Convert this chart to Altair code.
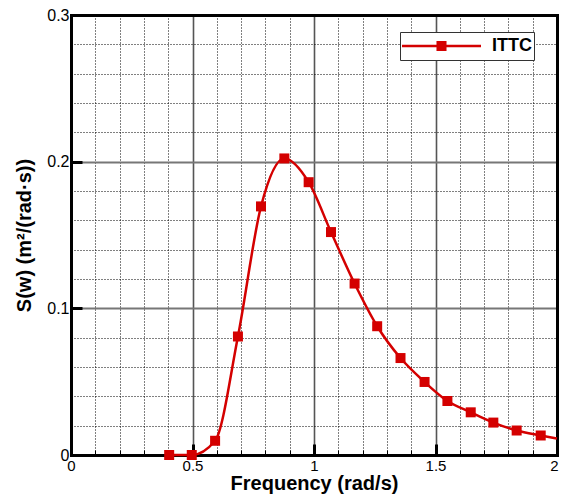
import altair as alt
import pandas as pd

# Marker data
freq = [0.404, 0.497, 0.593, 0.687, 0.782, 0.878, 0.978, 1.070, 1.167, 1.260,
        1.356, 1.455, 1.549, 1.645, 1.738, 1.834, 1.933]
spec = [0.0, 0.0, 0.0097, 0.0808, 0.1695, 0.2022, 0.186, 0.152, 0.1169, 0.0878,
        0.0661, 0.0498, 0.0368, 0.0291, 0.0221, 0.0167, 0.0133]
# the curve continues to the right edge
line_freq = freq + [2.0]
line_spec = spec + [0.0112]
series_name = "ITTC"

x_label_vals = [0, 0.5, 1, 1.5]
x_last_label = [2]
x_frame_vals = [0, 0.5, 1, 1.5, 2]
y_label_vals = [0, 0.1, 0.2, 0.3]
x_major_grid = [0.5, 1, 1.5]
y_major_grid = [0.1, 0.2]
x_minor = [0.1, 0.2, 0.3, 0.4, 0.6, 0.7, 0.8, 0.9, 1.1, 1.2, 1.3, 1.4,
           1.6, 1.7, 1.8, 1.9]
y_minor = [0.02, 0.04, 0.06, 0.08, 0.12, 0.14, 0.16, 0.18, 0.22, 0.24, 0.26, 0.28]
x_all_ticks = [0.1, 0.2, 0.3, 0.4, 0.5, 0.6, 0.7, 0.8, 0.9, 1.0, 1.1, 1.2, 1.3,
               1.4, 1.5, 1.6, 1.7, 1.8, 1.9]

pts = pd.DataFrame({"f": freq, "s": spec, "series": [series_name] * len(freq)})
ln = pd.DataFrame({"f": line_freq, "s": line_spec})

W, H = 486, 440
FONT = "Liberation Sans"
RED = "#d40000"

xs = alt.Scale(domain=[0, 2], nice=False, zero=False)
ys = alt.Scale(domain=[0, 0.3], nice=False, zero=False)

base = alt.Chart(pts)

minor = base.mark_point(opacity=0).encode(
    x=alt.X("f:Q", scale=xs, axis=alt.Axis(orient="bottom", values=x_minor, grid=True, gridDash=[1, 2],
            gridColor="#000", gridWidth=1, labels=False, ticks=False, domain=False, title=None)),
    y=alt.Y("s:Q", scale=ys, axis=alt.Axis(orient="left", values=y_minor, grid=True, gridDash=[1, 2],
            gridColor="#000", gridWidth=1, labels=False, ticks=False, domain=False, title=None)),
)

major = base.mark_point(opacity=0).encode(
    x=alt.X("f:Q", scale=xs, axis=alt.Axis(orient="bottom", values=x_major_grid, grid=True,
            gridColor="#555", gridWidth=1.6, labels=False, ticks=False, domain=False, title=None)),
    y=alt.Y("s:Q", scale=ys, axis=alt.Axis(orient="left", values=y_major_grid, grid=True,
            gridColor="#777", gridWidth=2, labels=False, ticks=False, domain=False, title=None)),
)

labels = base.mark_point(opacity=0).encode(
    x=alt.X("f:Q", scale=xs, axis=alt.Axis(
        orient="bottom", values=x_label_vals, grid=False, ticks=False,
        domain=True, domainColor="#000", domainWidth=3, domainCap="square", format="~g",
        labelFlush=False, labelOverlap=False, labelFontSize=15, labelFont=FONT, labelColor="#000",
        labelPadding=3, title="Frequency (rad/s)", titleFont=FONT, titleFontSize=20,
        titleFontWeight="bold", titleColor="#000", titleY=34, titleBaseline="alphabetic")),
    y=alt.Y("s:Q", scale=ys, axis=alt.Axis(
        orient="left", values=y_label_vals, grid=False, ticks=False,
        domain=True, domainColor="#000", domainWidth=3, domainCap="square", format="~g",
        labelFlush=False, labelOverlap=False, labelFontSize=16, labelFont=FONT, labelColor="#000",
        labelPadding=2, title="S(w) (m²/(rad·s))", titleFont=FONT, titleFontSize=20,
        titleFontWeight="bold", titleColor="#000", titlePadding=12)),
)

last_label = base.mark_point(opacity=0).encode(
    x=alt.X("f:Q", scale=xs, axis=alt.Axis(
        orient="bottom", values=x_last_label, grid=False, ticks=False, domain=False,
        format="~g", labelFlush=False, labelOverlap=False, labelFontSize=15, labelFont=FONT,
        labelColor="#000", labelPadding=3, labelOffset=-3, title=None)),
    y=alt.Y("s:Q", scale=ys, axis=None),
)

frame = base.mark_point(opacity=0).encode(
    x=alt.X("f:Q", scale=xs, axis=alt.Axis(orient="top", values=x_frame_vals, grid=False,
            ticks=False, labels=False, domain=True, domainColor="#000", domainWidth=3,
            domainCap="square", title=None)),
    y=alt.Y("s:Q", scale=ys, axis=alt.Axis(orient="right", values=y_label_vals, grid=False,
            ticks=False, labels=False, domain=True, domainColor="#000", domainWidth=3,
            domainCap="square", title=None)),
)

minor_ticks = base.mark_point(opacity=0).encode(
    x=alt.X("f:Q", scale=xs, axis=alt.Axis(orient="top", offset=-H, values=x_all_ticks,
            grid=False, ticks=True, tickSize=5, tickWidth=1, tickColor="#000",
            labels=False, domain=False, title=None)),
    y=alt.Y("s:Q", scale=ys, axis=None),
)

major_ticks = base.mark_point(opacity=0).encode(
    x=alt.X("f:Q", scale=xs, axis=alt.Axis(orient="top", offset=-H, values=x_major_grid,
            grid=False, ticks=True, tickSize=11, tickWidth=3, tickColor="#000",
            labels=False, domain=False, title=None)),
    y=alt.Y("s:Q", scale=ys, axis=alt.Axis(orient="right", offset=-W, values=y_major_grid,
            grid=False, ticks=True, tickSize=11, tickWidth=3, tickColor="#000",
            labels=False, domain=False, title=None)),
)

curve = alt.Chart(ln).mark_line(interpolate="monotone", color=RED, strokeWidth=2.5).encode(
    x=alt.X("f:Q", scale=xs, axis=None),
    y=alt.Y("s:Q", scale=ys, axis=None),
)

legend_path = "M-1,-0.032H1V0.032H-1Z M-0.127,-0.127H0.127V0.127H-0.127Z"

markers = base.mark_square(size=100, opacity=1).encode(
    x=alt.X("f:Q", scale=xs, axis=None),
    y=alt.Y("s:Q", scale=ys, axis=None),
    color=alt.Color("series:N", scale=alt.Scale(range=[RED]), legend=alt.Legend(
        title=None, orient="none", legendX=329, legendY=17,
        symbolType=legend_path, symbolSize=6241, symbolStrokeWidth=0, symbolOpacity=1,
        clipHeight=24, labelFont=FONT, labelFontSize=18, labelFontWeight="bold",
        labelColor="#000", labelOffset=11, padding=2, strokeColor="#333",
        fillColor="white", cornerRadius=0)),
)

chart = alt.layer(minor, major, frame, labels, last_label, minor_ticks, major_ticks,
                  curve, markers).resolve_axis(
    x="independent", y="independent"
).properties(
    width=W, height=H,
    padding={"left": 63, "top": 7, "right": 3, "bottom": 39},
    autosize="none",
).configure_view(
    stroke=None
).configure(background="white")

chart.save("out.html", embed_options={"renderer": "svg", "actions": False})
